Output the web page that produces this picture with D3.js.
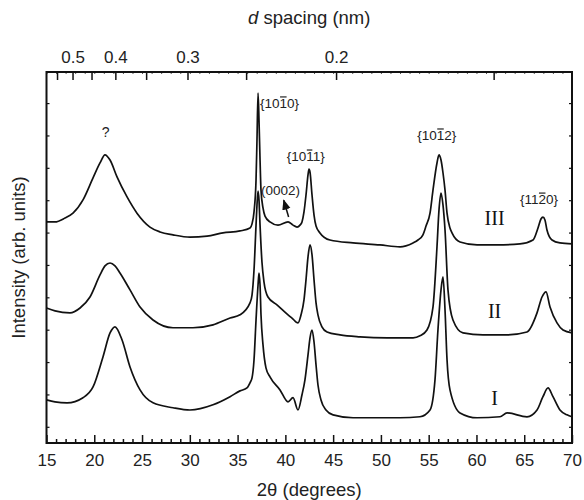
<!DOCTYPE html>
<html><head><meta charset="utf-8">
<script src="https://cdn.jsdelivr.net/npm/d3@7"></script>
<style>body{margin:0;background:#fff}svg{display:block}</style>
</head><body>
<svg id="c" width="584" height="500"></svg>
<script>
// ---- data ----
const xTicksMajor = [15,20,25,30,35,40,45,50,55,60,65,70];
const dTicks = [0.55,0.5,0.45,0.4,0.35,0.3,0.25,0.2,0.15];
const dLabels = [0.5,0.4,0.3,0.2];
const yTicks = [0,10,20,30,40,50,60,70,80,90,100];
const lambda = 0.15406; // nm, Cu K-alpha

const curveIII = [[15.0,63.3],[15.89,63.3],[16.94,64.5],[17.77,66.0],[18.82,70.1],[19.87,76.9],[20.60,81.5],[21.12,84.0],[21.65,82.4],[22.38,77.2],[23.43,71.0],[24.47,66.0],[25.83,61.7],[26.88,60.2],[28.24,59.3],[30.02,58.6],[31.80,58.9],[33.47,59.9],[35.25,60.5],[36.30,61.4],[36.51,62.7],[36.72,66.4],[36.93,76.2],[37.03,88.6],[37.14,103.1],[37.24,94.8],[37.35,82.4],[37.45,73.1],[37.66,67.6],[37.87,65.1],[38.39,63.3],[39.23,62.3],[40.28,63.3],[40.80,62.3],[41.22,61.7],[41.53,62.3],[41.74,63.3],[41.95,66.4],[42.16,71.6],[42.37,77.8],[42.47,79.6],[42.58,78.7],[42.79,71.6],[43.00,65.4],[43.21,62.0],[43.62,59.9],[44.67,57.7],[47.08,56.8],[49.90,56.2],[52.00,55.6],[53.36,56.8],[53.88,57.7],[54.40,59.3],[54.72,62.0],[55.14,66.0],[55.45,73.1],[55.87,81.5],[56.08,84.0],[56.29,82.4],[56.50,78.4],[56.71,73.1],[56.92,66.0],[57.23,61.4],[57.44,59.9],[58.28,57.1],[60.06,56.2],[62.15,56.2],[64.56,56.5],[65.92,57.7],[66.44,61.4],[66.75,64.2],[66.96,64.8],[67.17,63.9],[67.38,60.8],[67.91,57.7],[68.74,56.8],[70.00,56.5]];

const curveII = [[15.0,36.7],[15.89,35.8],[17.46,35.2],[18.51,36.7],[19.55,40.1],[20.60,46.9],[21.12,49.7],[21.65,50.6],[22.17,49.7],[22.69,47.5],[23.74,42.3],[24.79,37.0],[26.15,33.0],[28.24,30.6],[30.33,30.6],[32.43,31.5],[34.21,33.6],[35.25,34.6],[36.30,38.3],[36.51,40.7],[36.72,48.5],[36.93,62.3],[37.03,68.5],[37.14,72.8],[37.24,70.1],[37.35,62.3],[37.55,50.9],[37.76,44.8],[38.18,40.1],[39.12,37.7],[40.28,34.6],[40.69,33.6],[41.32,32.1],[41.64,34.6],[41.95,39.2],[42.16,45.4],[42.37,52.5],[42.58,56.2],[42.79,53.1],[43.00,45.4],[43.21,38.3],[43.41,34.6],[43.83,30.9],[44.36,29.3],[45.72,28.4],[47.81,27.8],[50.64,27.5],[53.36,27.5],[54.09,28.1],[54.82,29.9],[55.45,37.0],[55.87,55.6],[56.08,67.0],[56.29,72.2],[56.50,68.5],[56.71,60.8],[57.02,42.3],[57.54,33.0],[58.59,29.0],[60.68,28.4],[63.20,28.4],[65.29,29.3],[66.34,35.2],[66.86,40.1],[67.28,41.7],[67.70,37.0],[68.43,32.1],[69.06,29.9],[70.00,29.0]];

const curveI = [[15.0,8.3],[15.89,7.7],[17.15,7.4],[18.82,9.0],[19.87,12.3],[20.91,21.6],[21.65,29.0],[22.17,30.9],[22.90,26.9],[23.74,18.5],[24.79,11.4],[26.15,7.4],[28.24,5.9],[30.02,5.2],[32.43,6.8],[34.21,9.3],[35.25,11.1],[35.98,12.0],[36.30,13.6],[36.51,15.1],[36.72,20.7],[36.93,33.0],[37.14,43.8],[37.24,47.5],[37.35,43.8],[37.45,34.6],[37.66,25.3],[37.97,18.2],[38.39,15.4],[39.44,11.4],[40.28,7.7],[40.80,9.0],[41.32,5.2],[41.74,9.9],[42.05,14.5],[42.37,22.2],[42.58,27.5],[42.79,29.9],[43.00,26.2],[43.21,19.1],[43.41,13.0],[43.73,8.3],[44.25,5.2],[44.99,3.7],[47.08,2.8],[49.59,2.8],[52.00,2.8],[54.09,3.1],[55.14,5.2],[55.66,14.5],[55.97,29.9],[56.29,42.3],[56.50,46.3],[56.71,36.1],[56.92,20.7],[57.23,11.4],[58.28,4.3],[60.06,2.8],[62.46,3.1],[63.20,4.3],[65.29,3.1],[66.34,5.2],[66.96,9.3],[67.49,12.0],[68.01,9.3],[68.74,5.2],[69.48,3.7],[70.00,3.1]];

const seriesNames = ["I","II","III"];
// label anchors: [2theta, intensity]
const seriesLabelPos = [[61.9,6.8],[61.9,33.7],[61.9,62.3]];
const peakLabels = [
  {text:"{1010}", bar:3, at:[37.35,98.5]},
  {text:"{1011}", bar:3, at:[40.15,82.1]},
  {text:"(0002)", bar:-1, at:[37.45,71.6]},
  {text:"{1012}", bar:3, at:[53.8,88.6]},
  {text:"{1120}", bar:3, at:[64.55,68.8]}
];
const qLabel = {text:"?", at:[21.2,89.6]};
const arrowFromTo = [[40.34,64.8],[39.83,70.0]];

// ---- layout ----
const W=584,H=500, L=46.5, R=572, T=72, B=443;
const svg = d3.select("#c");
const x = d3.scaleLinear().domain([15,70]).range([L,R]);
const y = d3.scaleLinear().domain([-5,109.6]).range([B,T]);
const sans = "'Liberation Sans', Arial, Helvetica, sans-serif";
const serif = "'Liberation Serif', 'Times New Roman', serif";

// curves
const line = d3.line().x(d=>x(d[0])).y(d=>y(d[1])).curve(d3.curveMonotoneX);
[curveI,curveII,curveIII].forEach(c=>{
  svg.append("path").attr("d",line(c)).attr("fill","none")
    .attr("stroke","#111").attr("stroke-width",1.7).attr("stroke-linejoin","round");
});

// bottom axis
const gB = svg.append("g").attr("transform",`translate(0,${B})`);
gB.call(d3.axisBottom(x).tickValues(d3.range(15,71,1)).tickSize(-4).tickFormat(""));
gB.call(g=>g.selectAll(".tick").filter(d=>d%5===0).select("line").attr("y2",-8));
gB.select(".domain").remove();
gB.selectAll("line").attr("stroke","#111").attr("stroke-width",1.5);
const gBL = svg.append("g").attr("transform",`translate(0,${B})`);
gBL.call(d3.axisBottom(x).tickValues(xTicksMajor).tickSize(0).tickPadding(11).tickFormat(d3.format("d")));
gBL.select(".domain").remove();
gBL.selectAll("text").attr("font-family",sans).attr("font-size",17).attr("fill","#222");

// top axis: d spacing
const tth = d => 2*Math.asin(lambda/(2*d))*180/Math.PI;
const gT = svg.append("g").attr("transform",`translate(0,${T})`);
gT.call(d3.axisTop(x).tickValues(d3.range(15,71,1)).tickSize(-2).tickFormat(""));
gT.select(".domain").remove();
gT.selectAll("line").attr("stroke","#555").attr("stroke-width",1);
const gT2 = svg.append("g").attr("transform",`translate(0,${T})`);
gT2.call(d3.axisTop(x).tickValues(dTicks.map(tth)).tickSize(-8).tickPadding(9)
  .tickFormat((v,i)=> dLabels.includes(dTicks[i]) ? String(dTicks[i]) : ""));
gT2.select(".domain").remove();
gT2.selectAll("line").attr("stroke","#111").attr("stroke-width",1.5);
gT2.selectAll("text").attr("font-family",sans).attr("font-size",17).attr("fill","#222");

// left/right ticks
const gL = svg.append("g").attr("transform",`translate(${L},0)`);
gL.call(d3.axisLeft(y).tickValues(yTicks).tickSize(-3).tickFormat(""));
gL.select(".domain").remove();
gL.selectAll("line").attr("stroke","#111").attr("stroke-width",1.2);
const gR = svg.append("g").attr("transform",`translate(${R},0)`);
gR.call(d3.axisRight(y).tickValues(yTicks).tickSize(-3).tickFormat(""));
gR.select(".domain").remove();
gR.selectAll("line").attr("stroke","#111").attr("stroke-width",1.2);

// frame
svg.append("rect").attr("x",L).attr("y",T).attr("width",R-L).attr("height",B-T)
  .attr("fill","none").attr("stroke","#111").attr("stroke-width",2);

// axis titles
svg.append("text").attr("x",(L+R)/2).attr("y",496).attr("text-anchor","middle")
  .attr("font-family",sans).attr("font-size",18.5).attr("fill","#222").text("2θ (degrees)");
const tt = svg.append("text").attr("x",(L+R)/2).attr("y",24).attr("text-anchor","middle")
  .attr("font-family",sans).attr("font-size",18.5).attr("fill","#222");
tt.append("tspan").attr("font-style","italic").text("d");
tt.append("tspan").text(" spacing (nm)");
svg.append("text").attr("transform",`translate(25,${(T+B)/2}) rotate(-90)`).attr("text-anchor","middle")
  .attr("font-family",sans).attr("font-size",18.5).attr("fill","#222").text("Intensity (arb. units)");

// series labels
seriesNames.forEach((n,i)=>{
  svg.append("text").attr("x",x(seriesLabelPos[i][0])).attr("y",y(seriesLabelPos[i][1]))
    .attr("text-anchor","middle").attr("font-family",serif).attr("font-size",20).attr("fill","#111").text(n);
});

// peak labels with overbars
peakLabels.forEach(p=>{
  const t = svg.append("text").attr("x",x(p.at[0])).attr("y",y(p.at[1]))
    .attr("font-family",sans).attr("font-size",13.5).attr("fill","#222").text(p.text);
  if(p.bar>=0){
    const n=t.node();
    const s=n.getStartPositionOfChar(p.bar), e=n.getEndPositionOfChar(p.bar);
    svg.append("line").attr("x1",s.x+0.5).attr("x2",e.x-0.5).attr("y1",s.y-11).attr("y2",s.y-11)
      .attr("stroke","#222").attr("stroke-width",1.2);
  }
});
svg.append("text").attr("x",x(qLabel.at[0])).attr("y",y(qLabel.at[1])).attr("text-anchor","middle")
  .attr("font-family",sans).attr("font-size",14).attr("fill","#222").text(qLabel.text);

// arrow
svg.append("defs").append("marker").attr("id","ah").attr("viewBox","0 0 10 10")
  .attr("refX",9).attr("refY",5).attr("markerWidth",7).attr("markerHeight",7).attr("orient","auto")
  .append("path").attr("d","M0,1L10,5L0,9Z").attr("fill","#111");
svg.append("line").attr("x1",x(arrowFromTo[0][0])).attr("y1",y(arrowFromTo[0][1]))
  .attr("x2",x(arrowFromTo[1][0])).attr("y2",y(arrowFromTo[1][1]))
  .attr("stroke","#111").attr("stroke-width",1.5).attr("marker-end","url(#ah)");
</script>
</body></html>
